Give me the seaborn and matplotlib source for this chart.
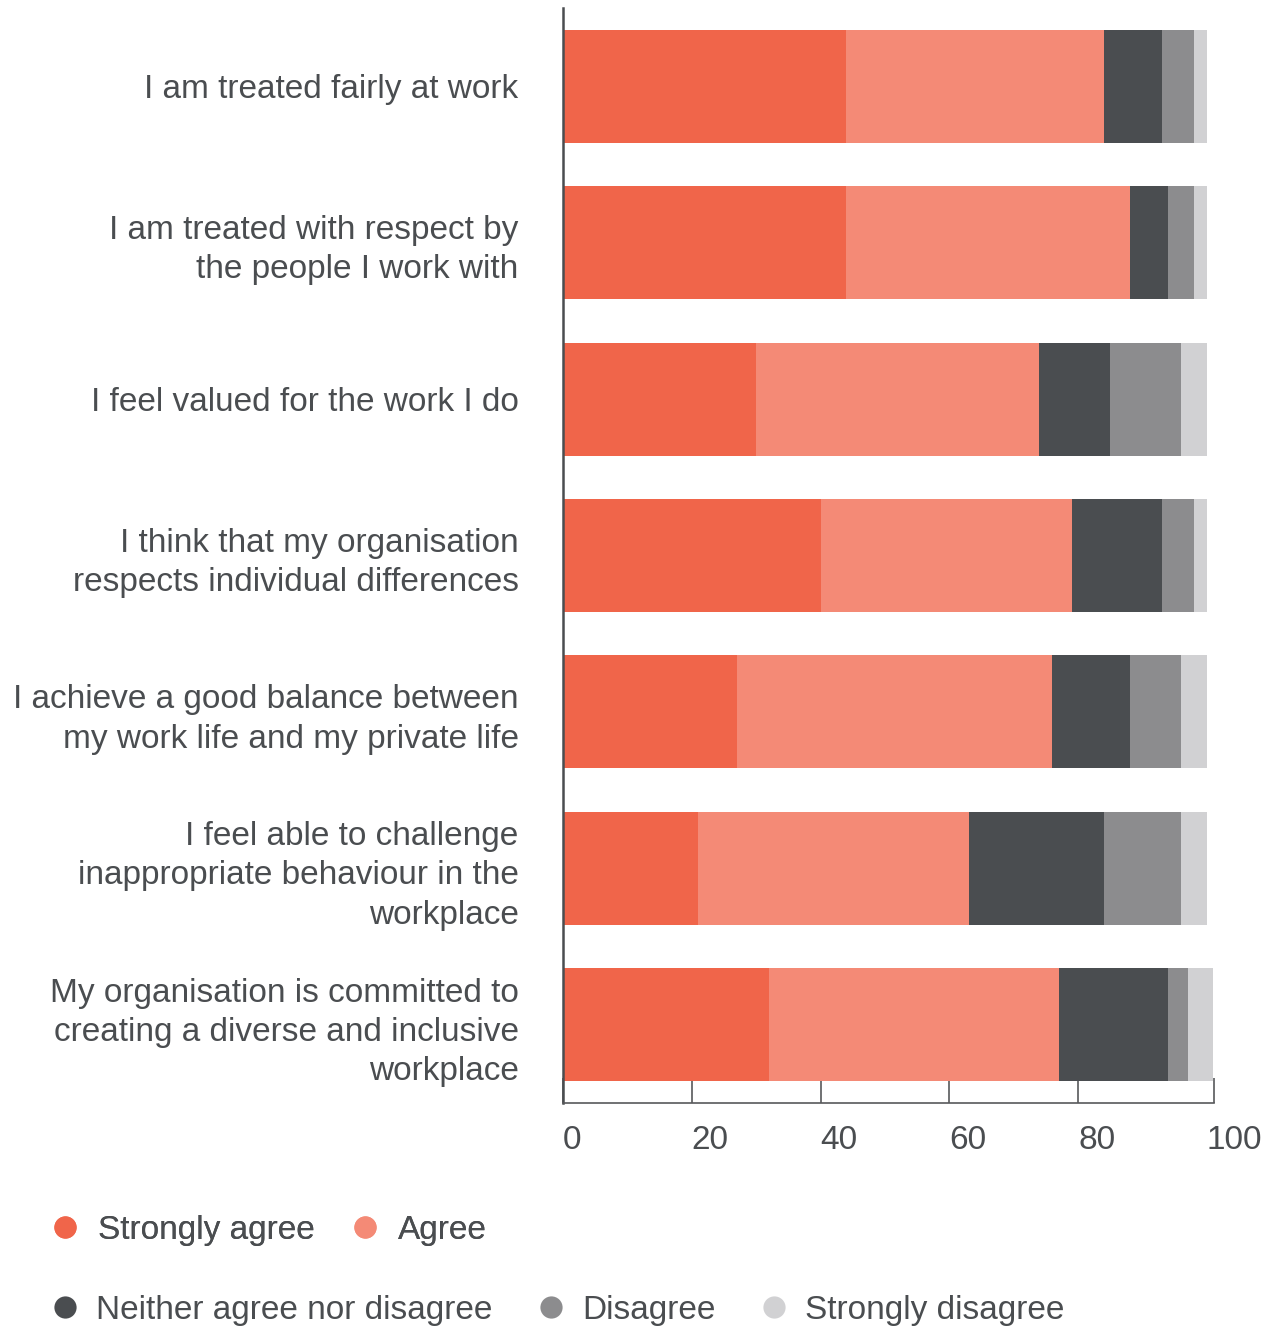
import matplotlib
matplotlib.use('Agg')
import matplotlib.pyplot as plt
import seaborn as sns
import pandas as pd
import numpy as np
from matplotlib.lines import Line2D

questions = [
    "I am treated fairly at work",
    "I am treated with respect by\nthe people I work with",
    "I feel valued for the work I do",
    "I think that my organisation\nrespects individual differences",
    "I achieve a good balance between\nmy work life and my private life",
    "I feel able to challenge\ninappropriate behaviour in the\nworkplace",
    "My organisation is committed to\ncreating a diverse and inclusive\nworkplace",
]
strongly_agree = [44, 44, 30, 40, 27, 21, 32]
agree = [40, 44, 44, 39, 49, 42, 45]
neither = [9, 6, 11, 14, 12, 21, 17]
disagree = [5, 4, 11, 5, 8, 12, 3]
strongly_disagree = [2, 2, 4, 2, 4, 4, 4]

series_names = ["Strongly agree", "Agree", "Neither agree nor disagree",
                "Disagree", "Strongly disagree"]
series_vals = [strongly_agree, agree, neither, disagree, strongly_disagree]
colors = ["#F0654A", "#F48A76", "#4A4D50", "#8C8C8E", "#D1D1D3"]
tick_vals = [0, 20, 40, 60, 80, 100]

TXT = "#4A4D50"
sns.set_theme(style="white")
plt.rcParams['font.family'] = ['Liberation Sans', 'DejaVu Sans']

fig = plt.figure(figsize=(12.67, 13.26), dpi=100)
ax = fig.add_axes([563/1267, 1-1103/1326, (1214-563)/1267, (1103-8)/1326])

cum = np.cumsum(np.array(series_vals), axis=0)
df = pd.DataFrame({"question": questions})
for i in range(len(series_names)-1, -1, -1):
    df["v"] = cum[i]
    sns.barplot(data=df, x="v", y="question", orient="h", color=colors[i],
                saturation=1, width=0.722, linewidth=0, ax=ax, order=questions)

ax.set_xlim(0, 101.1)
ax.set_ylim(6.5, -0.5)
ax.set_xlabel("")
ax.set_ylabel("")
ax.set_xticks(tick_vals)
ax.set_xticklabels([str(t) for t in tick_vals], ha="left")
ax.set_xticks([101.1], minor=True)
ax.tick_params(axis="x", which="both", direction="in", length=18, width=1.2,
               color="#58595B", pad=15.5, labelsize=24, labelcolor=TXT, bottom=True)
ax.xaxis.get_major_ticks()[-1].tick1line.set_visible(False)
ax.tick_params(axis="y", length=0, pad=32, labelsize=24, labelcolor=TXT)
for lab in ax.get_yticklabels():
    lab.set_linespacing(1.34)
    lab.set_ha("right")

for s in ["top", "right"]:
    ax.spines[s].set_visible(False)
ax.spines["left"].set_color("#4A4D50")
ax.spines["left"].set_linewidth(1.8)
ax.spines["bottom"].set_color("#58595B")
ax.spines["bottom"].set_linewidth(1.2)

def handles(idx):
    return [Line2D([0], [0], marker="o", linestyle="none", markersize=16,
                   markerfacecolor=colors[i], markeredgewidth=0) for i in idx]

leg1 = fig.legend(handles(range(2)), series_names[:2], loc="center left",
                  bbox_to_anchor=(53.6/1267, 1-1230/1326), ncol=2, frameon=False,
                  fontsize=24, handlelength=0.7, handletextpad=0.62,
                  columnspacing=1.18, borderpad=0, borderaxespad=0, labelcolor=TXT)
leg2 = fig.legend(handles(range(2, 5)), series_names[2:], loc="center left",
                  bbox_to_anchor=(53.6/1267, 1-1310/1326), ncol=3, frameon=False,
                  fontsize=24, handlelength=0.7, handletextpad=0.58,
                  columnspacing=1.4, borderpad=0, borderaxespad=0, labelcolor=TXT)
fig.add_artist(leg1)

fig.savefig("out.png", dpi=100)
